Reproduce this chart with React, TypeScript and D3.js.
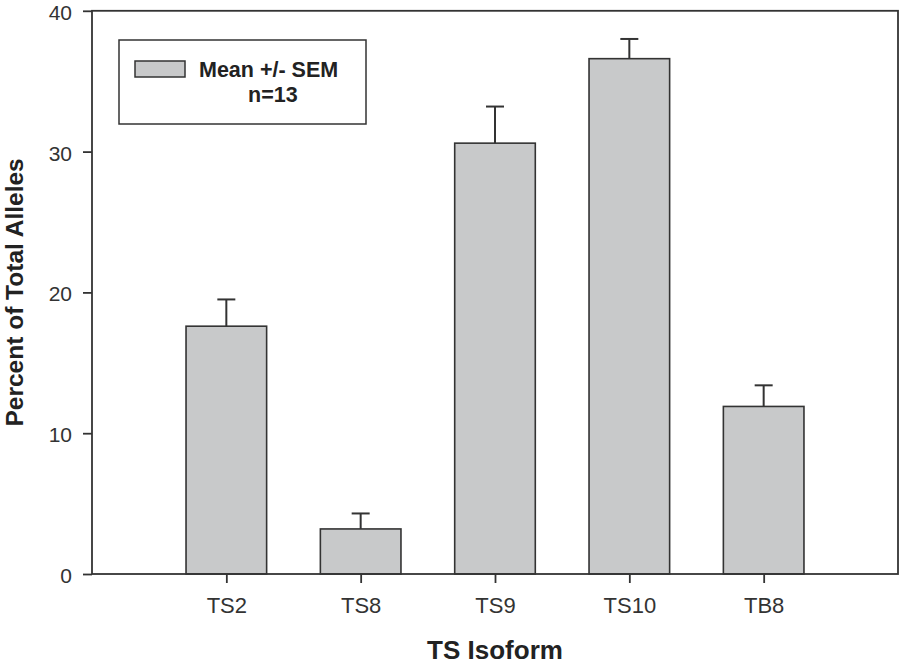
import React, { useEffect, useRef } from "react";
import * as d3 from "d3";

const isoforms = ["TS2", "TS8", "TS9", "TS10", "TB8"];
const meanPercent = [17.6, 3.2, 30.6, 36.6, 11.9];
const semPercent = [1.9, 1.1, 2.6, 1.4, 1.5];
const yTicks = [0, 10, 20, 30, 40];

export default function App() {
  const ref = useRef<SVGSVGElement>(null);

  useEffect(() => {
    const width = 900;
    const height = 665;
    const left = 92;
    const right = 898;
    const top = 10.8;
    const bottom = 574;
    const font = "'Liberation Sans', Arial, sans-serif";
    const ink = "#333";

    const svg = d3.select(ref.current);
    svg.selectAll("*").remove();
    svg.attr("width", width).attr("height", height).attr("viewBox", [0, 0, width, height]);

    const x = d3.scalePoint<string>().domain(isoforms).range([left, right]).padding(1);
    const y = d3.scaleLinear().domain([0, 40]).range([bottom, top]);
    const barW = x.step() * 0.6;

    const data = isoforms.map((name, i) => ({ name, mean: meanPercent[i], sem: semPercent[i] }));

    // error bars (drawn under the bars so the stem starts at the bar top)
    const err = svg.append("g").attr("stroke", ink).attr("stroke-width", 2);
    err
      .selectAll("line.stem")
      .data(data)
      .join("line")
      .attr("class", "stem")
      .attr("x1", (d) => x(d.name)!)
      .attr("x2", (d) => x(d.name)!)
      .attr("y1", (d) => y(d.mean))
      .attr("y2", (d) => y(d.mean + d.sem));
    err
      .selectAll("line.cap")
      .data(data)
      .join("line")
      .attr("class", "cap")
      .attr("x1", (d) => x(d.name)! - 9)
      .attr("x2", (d) => x(d.name)! + 9)
      .attr("y1", (d) => y(d.mean + d.sem))
      .attr("y2", (d) => y(d.mean + d.sem));

    // bars
    svg
      .append("g")
      .selectAll("rect")
      .data(data)
      .join("rect")
      .attr("x", (d) => x(d.name)! - barW / 2)
      .attr("width", barW)
      .attr("y", (d) => y(d.mean))
      .attr("height", (d) => y(0) - y(d.mean))
      .attr("fill", "#c8c9ca")
      .attr("stroke", ink)
      .attr("stroke-width", 1.6);

    // frame
    svg
      .append("rect")
      .attr("x", left)
      .attr("y", top)
      .attr("width", right - left)
      .attr("height", bottom - top)
      .attr("fill", "none")
      .attr("stroke", ink)
      .attr("stroke-width", 1.8);

    // y axis
    svg
      .append("g")
      .attr("transform", `translate(${left},0)`)
      .call(d3.axisLeft(y).tickValues(yTicks).tickSize(9).tickPadding(11).tickSizeOuter(0))
      .call((g) => g.select(".domain").remove())
      .call((g) => g.selectAll(".tick line").attr("stroke", ink).attr("stroke-width", 1.8))
      .call((g) =>
        g
          .selectAll(".tick text")
          .attr("fill", ink)
          .attr("dy", "0.4em")
          .style("font-family", font)
          .style("font-size", "21px")
      );

    // x axis
    svg
      .append("g")
      .attr("transform", `translate(0,${bottom})`)
      .call(d3.axisBottom(x).tickSize(9).tickPadding(14).tickSizeOuter(0))
      .call((g) => g.select(".domain").remove())
      .call((g) => g.selectAll(".tick line").attr("stroke", ink).attr("stroke-width", 1.8))
      .call((g) =>
        g.selectAll(".tick text").attr("fill", ink).style("font-family", font).style("font-size", "22px")
      );

    // axis titles
    svg
      .append("text")
      .attr("x", (left + right) / 2)
      .attr("y", 659)
      .attr("text-anchor", "middle")
      .attr("fill", "#222")
      .style("font-family", font)
      .style("font-size", "26px")
      .style("font-weight", "bold")
      .text("TS Isoform");

    svg
      .append("text")
      .attr("transform", `translate(23,${(top + bottom) / 2}) rotate(-90)`)
      .attr("text-anchor", "middle")
      .attr("fill", "#222")
      .style("font-family", font)
      .style("font-size", "24.5px")
      .style("font-weight", "bold")
      .text("Percent of Total Alleles");

    // legend
    const lg = svg.append("g");
    lg.append("rect")
      .attr("x", 119)
      .attr("y", 40)
      .attr("width", 247)
      .attr("height", 84)
      .attr("fill", "white")
      .attr("stroke", ink)
      .attr("stroke-width", 1.5);
    lg.append("rect")
      .attr("x", 135)
      .attr("y", 61)
      .attr("width", 50)
      .attr("height", 16)
      .attr("fill", "#c8c9ca")
      .attr("stroke", ink)
      .attr("stroke-width", 1.5);
    lg.append("text")
      .attr("x", 199)
      .attr("y", 77)
      .attr("fill", "#222")
      .style("font-family", font)
      .style("font-size", "21.5px")
      .style("font-weight", "bold")
      .text("Mean +/- SEM");
    lg.append("text")
      .attr("x", 248)
      .attr("y", 102)
      .attr("fill", "#222")
      .style("font-family", font)
      .style("font-size", "21.5px")
      .style("font-weight", "bold")
      .text("n=13");
  }, []);

  return <svg ref={ref} style={{ position: "absolute", left: 0, top: 0, background: "white" }} />;
}
